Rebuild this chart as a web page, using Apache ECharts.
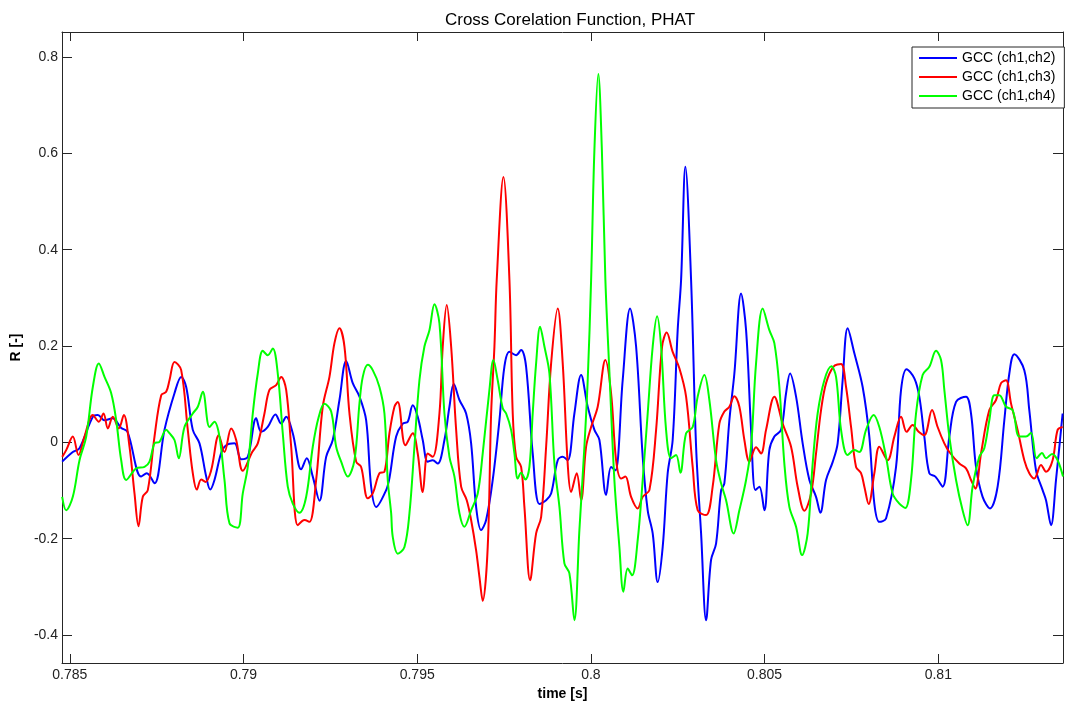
<!DOCTYPE html>
<html>
<head>
<meta charset="utf-8">
<title>Cross Corelation Function, PHAT</title>
<script src="https://cdn.jsdelivr.net/npm/echarts@6/dist/echarts.min.js"></script>
<style>
  html, body { margin: 0; padding: 0; background: #fff; }
  #chart { width: 1065px; height: 704px; }
</style>
</head>
<body>
<div id="chart"></div>
<script>
// time [s] / R [-], one pair per turning point
var blueT = [0.78478,0.785086,0.785279,0.785662,0.785806,0.785999,0.786229,0.786479,0.786661,0.787055,0.787216,0.787438,0.787725,0.788013,0.788206,0.78835,0.78854,0.788733,0.788926,0.789041,0.789164,0.789357,0.789501,0.78974,0.789933,0.790123,0.790365,0.790508,0.790698,0.79092,0.791084,0.791228,0.791418,0.79166,0.791821,0.791994,0.792186,0.792379,0.792569,0.792762,0.792955,0.793145,0.793338,0.79353,0.793674,0.793818,0.794106,0.794201,0.794394,0.794584,0.794728,0.794872,0.795015,0.795159,0.795303,0.795447,0.795591,0.795784,0.795928,0.796052,0.796216,0.796408,0.796552,0.796696,0.79684,0.796984,0.797174,0.797367,0.797511,0.797655,0.797847,0.797991,0.798135,0.798325,0.798518,0.798711,0.798855,0.799045,0.799189,0.799332,0.799525,0.799718,0.799908,0.800101,0.800245,0.800438,0.800581,0.800705,0.800915,0.801128,0.801301,0.801491,0.801635,0.801779,0.801923,0.802067,0.80221,0.802354,0.802498,0.802596,0.80272,0.802884,0.803028,0.803172,0.803316,0.803459,0.803603,0.803747,0.803842,0.803986,0.80413,0.804323,0.804467,0.804611,0.804734,0.80485,0.804994,0.805137,0.805281,0.805474,0.805618,0.805733,0.805906,0.806096,0.806289,0.806481,0.806605,0.806769,0.806959,0.807103,0.807247,0.807391,0.807584,0.807823,0.808015,0.808159,0.808303,0.808496,0.808784,0.808928,0.809089,0.809311,0.809454,0.809598,0.809742,0.809915,0.810125,0.810318,0.810511,0.810798,0.810942,0.811086,0.811276,0.811489,0.811708,0.811901,0.812045,0.812188,0.812476,0.81262,0.812813,0.813003,0.813101,0.813245,0.813389,0.813579];
var blueR = [-0.040,-0.020,-0.012,0.053,0.057,0.046,0.050,0.030,0.022,-0.071,-0.064,-0.085,0.026,0.102,0.136,0.115,0.026,-0.002,-0.071,-0.098,-0.078,-0.022,-0.006,-0.002,-0.035,-0.030,0.050,0.022,0.032,0.058,0.039,0.053,0.019,-0.056,-0.033,-0.071,-0.121,-0.030,0.005,0.088,0.169,0.123,0.095,0.046,-0.092,-0.134,-0.099,-0.074,0.012,0.039,0.043,0.077,0.053,0.005,-0.040,-0.037,-0.044,0.005,0.074,0.121,0.088,0.060,-0.002,-0.134,-0.182,-0.161,-0.078,0.046,0.158,0.188,0.181,0.192,0.157,-0.023,-0.128,-0.120,-0.106,-0.037,-0.030,-0.037,0.060,0.140,0.074,0.026,0.005,-0.109,-0.051,-0.058,0.129,0.278,0.199,-0.030,-0.141,-0.189,-0.290,-0.217,-0.064,0.005,0.233,0.337,0.572,0.337,-0.009,-0.189,-0.369,-0.244,-0.210,-0.100,-0.085,0.046,0.143,0.309,0.233,0.026,-0.099,-0.092,-0.141,-0.016,0.012,0.026,0.102,0.143,0.095,-0.002,-0.078,-0.113,-0.146,-0.078,-0.041,-0.002,0.129,0.237,0.185,0.115,0.012,-0.127,-0.165,-0.158,-0.051,0.109,0.152,0.133,0.095,0.012,-0.064,-0.071,-0.092,0.012,0.084,0.095,0.060,-0.051,-0.113,-0.137,-0.092,0.046,0.143,0.183,0.150,0.067,-0.058,-0.099,-0.120,-0.172,-0.078,0.060];

var redT = [0.78478,0.784896,0.785086,0.78525,0.785423,0.785662,0.785835,0.78597,0.786094,0.786238,0.78641,0.786554,0.786718,0.786862,0.786977,0.787101,0.787245,0.787438,0.787631,0.787774,0.787869,0.788013,0.788206,0.788396,0.78854,0.788655,0.788782,0.788905,0.789069,0.789288,0.789452,0.789645,0.789789,0.789979,0.79025,0.790411,0.790603,0.790747,0.79094,0.791084,0.791228,0.791372,0.791562,0.791755,0.791899,0.792091,0.792281,0.792474,0.792618,0.792762,0.792906,0.79305,0.793243,0.793386,0.793576,0.79372,0.793913,0.794057,0.794201,0.794345,0.79444,0.794661,0.794872,0.795015,0.795159,0.795303,0.795447,0.79564,0.795735,0.79585,0.795977,0.796121,0.796264,0.796426,0.796552,0.796696,0.796791,0.796886,0.79703,0.797128,0.797223,0.797289,0.797482,0.797655,0.79775,0.797847,0.797991,0.798086,0.79825,0.798423,0.798567,0.798711,0.798855,0.799045,0.799189,0.799332,0.79943,0.799591,0.799718,0.799862,0.800006,0.800196,0.800417,0.800581,0.800725,0.800869,0.800993,0.801157,0.801347,0.801491,0.801684,0.801877,0.802049,0.802182,0.802354,0.802547,0.80274,0.80293,0.803074,0.803316,0.803505,0.803698,0.803842,0.803986,0.80413,0.804274,0.804418,0.804562,0.804754,0.804898,0.805042,0.805281,0.80552,0.805762,0.805952,0.806145,0.806338,0.806481,0.806625,0.806769,0.806979,0.807201,0.807345,0.807489,0.807633,0.807776,0.807872,0.807995,0.808159,0.808303,0.808542,0.808735,0.808928,0.809089,0.809262,0.809434,0.809598,0.80982,0.809981,0.810174,0.810318,0.810606,0.810798,0.810942,0.811066,0.81123,0.811469,0.811662,0.811806,0.81195,0.812093,0.812283,0.812476,0.81262,0.812764,0.812957,0.813101,0.813291,0.813435,0.813579];
var redR = [-0.030,-0.016,0.012,-0.026,0.012,0.057,0.043,0.060,0.029,0.053,0.029,0.057,-0.009,-0.106,-0.174,-0.113,-0.099,0.012,0.098,0.105,0.129,0.167,0.150,0.026,-0.064,-0.098,-0.077,-0.082,-0.058,0.015,-0.020,0.029,0.005,-0.059,-0.020,-0.002,0.060,0.109,0.119,0.136,0.109,-0.009,-0.172,-0.161,-0.165,-0.078,0.074,0.136,0.206,0.237,0.199,0.060,-0.040,-0.051,-0.116,-0.106,-0.064,-0.061,0.019,0.074,0.084,-0.006,0.019,-0.023,-0.103,-0.023,-0.030,0.060,0.199,0.285,0.199,0.026,-0.092,-0.120,-0.161,-0.224,-0.279,-0.329,-0.217,0.060,0.199,0.337,0.551,0.337,0.060,-0.030,-0.051,-0.134,-0.286,-0.189,-0.155,-0.009,0.164,0.278,0.164,-0.044,-0.103,-0.064,-0.120,-0.009,0.032,0.074,0.171,0.102,-0.037,-0.075,-0.071,-0.113,-0.137,-0.113,-0.099,0.026,0.199,0.228,0.188,0.154,0.095,-0.051,-0.141,-0.151,-0.092,0.039,0.064,0.074,0.096,0.074,0.005,-0.040,-0.010,-0.023,0.026,0.095,0.039,-0.009,-0.092,-0.142,-0.106,-0.023,0.067,0.123,0.157,0.163,0.115,0.032,-0.051,-0.064,-0.092,-0.128,-0.064,-0.009,-0.037,0.012,0.053,0.022,0.036,0.022,0.015,0.067,0.032,-0.002,-0.020,-0.044,-0.054,-0.078,-0.096,-0.023,0.067,0.088,0.123,0.129,0.081,0.026,-0.037,-0.064,-0.075,-0.047,-0.061,-0.037,0.026,0.032];

var greenT = [0.78478,0.784896,0.785086,0.785279,0.785472,0.785662,0.785835,0.785999,0.786191,0.786335,0.786479,0.786623,0.786911,0.78715,0.787294,0.787438,0.787582,0.787774,0.787869,0.788013,0.788137,0.788301,0.78854,0.788684,0.788828,0.789021,0.789164,0.789308,0.789452,0.789596,0.789835,0.789979,0.790123,0.790267,0.790411,0.790555,0.790698,0.790842,0.790986,0.79113,0.791274,0.791418,0.791611,0.791804,0.791994,0.792166,0.79233,0.792523,0.792667,0.792811,0.793001,0.793194,0.793338,0.793433,0.793576,0.79372,0.793913,0.794057,0.794152,0.79425,0.794296,0.79444,0.794633,0.794777,0.79492,0.795064,0.795208,0.795352,0.795496,0.79564,0.795784,0.795928,0.796072,0.796216,0.796359,0.796552,0.796742,0.796886,0.797079,0.797194,0.797318,0.797462,0.79756,0.797703,0.797798,0.797893,0.797991,0.798115,0.79823,0.798325,0.798423,0.798538,0.798662,0.798806,0.79895,0.799094,0.799237,0.799381,0.799525,0.799669,0.799813,0.799908,0.800006,0.800101,0.800213,0.800316,0.800417,0.800533,0.800676,0.80082,0.800935,0.801059,0.801186,0.801347,0.801491,0.801635,0.801779,0.801905,0.802021,0.802164,0.802308,0.802452,0.802576,0.80274,0.80293,0.803074,0.803267,0.80341,0.803603,0.803747,0.803891,0.80411,0.804274,0.804467,0.804611,0.804754,0.804945,0.805137,0.805281,0.805425,0.805569,0.805713,0.805906,0.806079,0.80624,0.806384,0.806527,0.80672,0.806922,0.807057,0.807201,0.807391,0.807584,0.807728,0.80792,0.808139,0.808303,0.808496,0.808686,0.808879,0.809051,0.809215,0.809359,0.809549,0.809742,0.809935,0.810079,0.810174,0.810318,0.810511,0.8107,0.810844,0.810988,0.811181,0.811325,0.811469,0.811613,0.811757,0.81195,0.81214,0.812332,0.812525,0.812669,0.81283,0.812986,0.813101,0.813274,0.813435,0.81359];
var greenR = [-0.113,-0.141,-0.113,-0.037,0.012,0.115,0.164,0.136,0.102,0.046,-0.037,-0.078,-0.054,-0.051,-0.040,-0.002,0.001,0.026,0.019,0.005,-0.033,0.032,0.060,0.074,0.105,0.032,0.043,0.012,-0.078,-0.168,-0.177,-0.106,-0.051,0.060,0.143,0.190,0.181,0.195,0.143,0.019,-0.092,-0.127,-0.146,-0.113,-0.009,0.053,0.080,0.064,-0.009,-0.040,-0.071,-0.037,0.081,0.136,0.161,0.150,0.115,0.060,-0.078,-0.147,-0.196,-0.231,-0.217,-0.147,-0.009,0.129,0.199,0.233,0.287,0.247,0.060,-0.030,-0.071,-0.147,-0.175,-0.141,-0.106,-0.023,0.109,0.171,0.129,0.071,0.060,0.026,-0.023,-0.075,-0.063,-0.077,-0.051,0.060,0.164,0.240,0.199,0.143,-0.044,-0.134,-0.251,-0.272,-0.369,-0.182,-0.009,0.129,0.337,0.607,0.765,0.607,0.337,0.146,-0.078,-0.217,-0.310,-0.262,-0.276,-0.203,-0.078,0.060,0.199,0.262,0.199,0.026,-0.033,-0.026,-0.063,0.019,0.032,0.095,0.140,0.088,-0.037,-0.085,-0.120,-0.189,-0.141,-0.078,-0.009,0.164,0.278,0.233,0.206,0.115,-0.044,-0.134,-0.175,-0.234,-0.189,-0.044,0.060,0.129,0.158,0.136,0.026,-0.026,-0.016,-0.020,0.026,0.057,0.032,-0.030,-0.106,-0.127,-0.136,-0.078,0.060,0.140,0.157,0.190,0.171,0.109,0.012,-0.078,-0.141,-0.172,-0.092,-0.030,-0.012,0.046,0.098,0.098,0.074,0.067,0.012,0.012,0.020,-0.033,-0.022,-0.033,-0.024,-0.037,-0.071];

var seriesNames = ["GCC (ch1,ch2)", "GCC (ch1,ch3)", "GCC (ch1,ch4)"];
var xTicks = [0.785, 0.79, 0.795, 0.8, 0.805, 0.81];
var yTicks = [-0.4, -0.2, 0, 0.2, 0.4, 0.6, 0.8];

function pairs(t, r) {
  var res = [];
  for (var i = 0; i < t.length; i++) {
    res.push([t[i], r[i]]);
  }
  return res;
}

var font = "'Liberation Sans', Arial, Helvetica, sans-serif";
var axisColor = "#262626";
var xMin = 0.784775, xMax = 0.81359;
var yMin = -0.458, yMax = 0.852;

// plain line as legend icon: tiny corner triangles keep the box 38x14
var lineIcon = "path://M0,0L0.01,0L0,0.01Z M0,6.1L38,6.1L38,7.9L0,7.9Z M38,14L37.99,14L38,13.99Z";

function frameX(pos, main) {
  return {
    type: "value",
    position: pos,
    min: xMin,
    max: xMax,
    name: main ? "time [s]" : "",
    nameLocation: "middle",
    nameGap: 19,
    nameTextStyle: { fontFamily: font, fontSize: 14, fontWeight: "bold", color: "#000" },
    axisLine: { show: true, onZero: false, lineStyle: { color: axisColor, width: 1 } },
    axisTick: { show: true, inside: true, length: 9, customValues: xTicks, lineStyle: { color: axisColor } },
    axisLabel: {
      show: main,
      customValues: xTicks,
      margin: 5,
      fontFamily: font,
      fontSize: 14,
      color: "#222",
      formatter: function (v) { return String(+v.toFixed(3)); }
    },
    splitLine: { show: false }
  };
}

function frameY(pos, main) {
  return {
    type: "value",
    position: pos,
    min: yMin,
    max: yMax,
    name: main ? "R [-]" : "",
    nameLocation: "middle",
    nameGap: 32,
    nameTextStyle: { fontFamily: font, fontSize: 14, fontWeight: "bold", color: "#000" },
    axisLine: { show: true, onZero: false, lineStyle: { color: axisColor, width: 1 } },
    axisTick: { show: true, inside: true, length: 10, customValues: yTicks, lineStyle: { color: axisColor } },
    axisLabel: {
      show: main,
      customValues: yTicks,
      margin: 4,
      fontFamily: font,
      fontSize: 14,
      color: "#222",
      formatter: function (v) { return String(+v.toFixed(1)); }
    },
    splitLine: { show: false }
  };
}

function line(name, color, t, r) {
  return {
    name: name,
    type: "line",
    xAxisIndex: 0,
    yAxisIndex: 0,
    data: pairs(t, r),
    smooth: 0.35,
    symbol: "none",
    showSymbol: false,
    clip: true,
    lineStyle: { color: color, width: 2 },
    itemStyle: { color: color }
  };
}

var chart = echarts.init(document.getElementById("chart"));
chart.setOption({
  animation: false,
  backgroundColor: "#fff",
  title: {
    text: "Cross Corelation Function, PHAT",
    left: 565,
    textAlign: "center",
    top: 7,
    textStyle: { fontFamily: font, fontSize: 17, fontWeight: "normal", color: "#000" }
  },
  legend: {
    orient: "vertical",
    left: 912,
    top: 47,
    padding: [4, 9, 5, 7],
    itemGap: 5,
    itemWidth: 38,
    itemHeight: 14,
    icon: lineIcon,
    backgroundColor: "#fff",
    borderColor: "#262626",
    borderWidth: 1,
    borderRadius: 0,
    textStyle: { fontFamily: font, fontSize: 14, color: "#000" },
    data: seriesNames
  },
  grid: {
    left: 62,
    right: 2,
    top: 32,
    bottom: 41,
    outerBoundsMode: "none"
  },
  xAxis: [frameX("bottom", true), frameX("top", false)],
  yAxis: [frameY("left", true), frameY("right", false)],
  series: [
    line(seriesNames[0], "#0000ff", blueT, blueR),
    line(seriesNames[1], "#ff0000", redT, redR),
    line(seriesNames[2], "#00ff00", greenT, greenR)
  ]
});
</script>
</body>
</html>
